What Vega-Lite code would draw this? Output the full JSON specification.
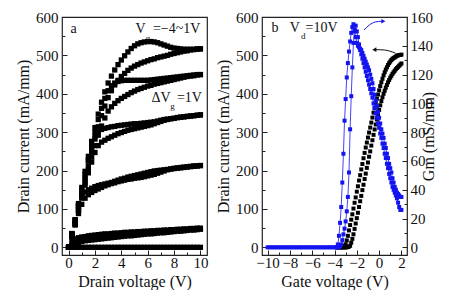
{
"$schema": "https://vega.github.io/schema/vega-lite/v6.json",
"padding": {"left": 14, "top": 9, "right": 0, "bottom": 0},
"config": {
 "font": "Liberation Serif",
 "view": {"stroke": "#222", "strokeWidth": 1.2},
 "axis": {"grid": false, "domain": false, "tickSize": -4, "tickColor": "#222", "labelFont": "Liberation Serif", "labelFontSize": 15, "labelColor": "#111", "titleFont": "Liberation Serif", "titleFontSize": 16, "titleFontWeight": "normal", "titleColor": "#111", "labelFlush": false, "labelPadding": 9, "labelOverlap": false},
 "axisX": {"labelPadding": 5, "titlePadding": 1},
 "concat": {"spacing": 5}
},
"datasets": {
 "pa": [
{"c":"1F","x":0,"y":0},{"c":"1F","x":0.25,"y":36},{"c":"1F","x":0.5,"y":72},{"c":"1F","x":0.75,"y":114},{"c":"1F","x":1,"y":156},{"c":"1F","x":1.25,"y":198},{"c":"1F","x":1.5,"y":237},{"c":"1F","x":1.75,"y":276},{"c":"1F","x":2,"y":312},{"c":"1F","x":2.25,"y":347},{"c":"1F","x":2.5,"y":378},{"c":"1F","x":2.75,"y":405},{"c":"1F","x":3,"y":428},{"c":"1F","x":3.25,"y":446},{"c":"1F","x":3.5,"y":462},{"c":"1F","x":3.75,"y":476},{"c":"1F","x":4,"y":488},{"c":"1F","x":4.25,"y":499},{"c":"1F","x":4.5,"y":509},{"c":"1F","x":4.75,"y":518},{"c":"1F","x":5,"y":525},{"c":"1F","x":5.25,"y":530},{"c":"1F","x":5.5,"y":533},{"c":"1F","x":5.75,"y":535},{"c":"1F","x":6,"y":536},{"c":"1F","x":6.25,"y":536},{"c":"1F","x":6.5,"y":535},{"c":"1F","x":6.75,"y":533},{"c":"1F","x":7,"y":530},{"c":"1F","x":7.25,"y":527},{"c":"1F","x":7.5,"y":524},{"c":"1F","x":7.75,"y":521},{"c":"1F","x":8,"y":519},{"c":"1F","x":8.25,"y":518},{"c":"1F","x":8.5,"y":517},{"c":"1F","x":8.75,"y":516},{"c":"1F","x":9,"y":516},{"c":"1F","x":9.25,"y":516},{"c":"1F","x":9.5,"y":516},{"c":"1F","x":9.75,"y":517},{"c":"1F","x":10,"y":517},
{"c":"1R","x":0,"y":0},{"c":"1R","x":0.25,"y":30},{"c":"1R","x":0.5,"y":62},{"c":"1R","x":0.75,"y":100},{"c":"1R","x":1,"y":138},{"c":"1R","x":1.25,"y":176},{"c":"1R","x":1.5,"y":212},{"c":"1R","x":1.75,"y":248},{"c":"1R","x":2,"y":282},{"c":"1R","x":2.25,"y":314},{"c":"1R","x":2.5,"y":343},{"c":"1R","x":2.75,"y":368},{"c":"1R","x":3,"y":390},{"c":"1R","x":3.25,"y":408},{"c":"1R","x":3.5,"y":423},{"c":"1R","x":3.75,"y":435},{"c":"1R","x":4,"y":445},{"c":"1R","x":4.25,"y":453},{"c":"1R","x":4.5,"y":461},{"c":"1R","x":4.75,"y":467},{"c":"1R","x":5,"y":472},{"c":"1R","x":5.25,"y":476},{"c":"1R","x":5.5,"y":480},{"c":"1R","x":5.75,"y":483},{"c":"1R","x":6,"y":486},{"c":"1R","x":6.25,"y":489},{"c":"1R","x":6.5,"y":491},{"c":"1R","x":6.75,"y":494},{"c":"1R","x":7,"y":496},{"c":"1R","x":7.25,"y":498},{"c":"1R","x":7.5,"y":500},{"c":"1R","x":7.75,"y":503},{"c":"1R","x":8,"y":505},{"c":"1R","x":8.25,"y":507},{"c":"1R","x":8.5,"y":509},{"c":"1R","x":8.75,"y":511},{"c":"1R","x":9,"y":512},{"c":"1R","x":9.25,"y":514},{"c":"1R","x":9.5,"y":515},{"c":"1R","x":9.75,"y":516},{"c":"1R","x":10,"y":517},
{"c":"0F","x":0,"y":0},{"c":"0F","x":0.25,"y":35},{"c":"0F","x":0.5,"y":70},{"c":"0F","x":0.75,"y":110},{"c":"0F","x":1,"y":150},{"c":"0F","x":1.25,"y":190},{"c":"0F","x":1.5,"y":228},{"c":"0F","x":1.75,"y":265},{"c":"0F","x":2,"y":300},{"c":"0F","x":2.25,"y":333},{"c":"0F","x":2.5,"y":362},{"c":"0F","x":2.75,"y":388},{"c":"0F","x":3,"y":408},{"c":"0F","x":3.25,"y":421},{"c":"0F","x":3.5,"y":428},{"c":"0F","x":3.75,"y":432},{"c":"0F","x":4,"y":434},{"c":"0F","x":4.25,"y":435},{"c":"0F","x":4.5,"y":435},{"c":"0F","x":4.75,"y":435},{"c":"0F","x":5,"y":435},{"c":"0F","x":5.25,"y":435},{"c":"0F","x":5.5,"y":435},{"c":"0F","x":5.75,"y":435},{"c":"0F","x":6,"y":435},{"c":"0F","x":6.25,"y":436},{"c":"0F","x":6.5,"y":437},{"c":"0F","x":6.75,"y":438},{"c":"0F","x":7,"y":439},{"c":"0F","x":7.25,"y":440},{"c":"0F","x":7.5,"y":441},{"c":"0F","x":7.75,"y":442},{"c":"0F","x":8,"y":443},{"c":"0F","x":8.25,"y":444},{"c":"0F","x":8.5,"y":445},{"c":"0F","x":8.75,"y":446},{"c":"0F","x":9,"y":447},{"c":"0F","x":9.25,"y":448},{"c":"0F","x":9.5,"y":449},{"c":"0F","x":9.75,"y":450},{"c":"0F","x":10,"y":450},
{"c":"0R","x":0,"y":0},{"c":"0R","x":0.25,"y":30},{"c":"0R","x":0.5,"y":60},{"c":"0R","x":0.75,"y":96},{"c":"0R","x":1,"y":132},{"c":"0R","x":1.25,"y":168},{"c":"0R","x":1.5,"y":202},{"c":"0R","x":1.75,"y":235},{"c":"0R","x":2,"y":265},{"c":"0R","x":2.25,"y":292},{"c":"0R","x":2.5,"y":316},{"c":"0R","x":2.75,"y":337},{"c":"0R","x":3,"y":355},{"c":"0R","x":3.25,"y":366},{"c":"0R","x":3.5,"y":375},{"c":"0R","x":3.75,"y":382},{"c":"0R","x":4,"y":388},{"c":"0R","x":4.25,"y":393},{"c":"0R","x":4.5,"y":398},{"c":"0R","x":4.75,"y":403},{"c":"0R","x":5,"y":407},{"c":"0R","x":5.25,"y":411},{"c":"0R","x":5.5,"y":414},{"c":"0R","x":5.75,"y":417},{"c":"0R","x":6,"y":420},{"c":"0R","x":6.25,"y":422},{"c":"0R","x":6.5,"y":425},{"c":"0R","x":6.75,"y":427},{"c":"0R","x":7,"y":429},{"c":"0R","x":7.25,"y":431},{"c":"0R","x":7.5,"y":433},{"c":"0R","x":7.75,"y":435},{"c":"0R","x":8,"y":437},{"c":"0R","x":8.25,"y":439},{"c":"0R","x":8.5,"y":441},{"c":"0R","x":8.75,"y":443},{"c":"0R","x":9,"y":445},{"c":"0R","x":9.25,"y":446},{"c":"0R","x":9.5,"y":447},{"c":"0R","x":9.75,"y":449},{"c":"0R","x":10,"y":450},
{"c":"m1F","x":0,"y":0},{"c":"m1F","x":0.25,"y":34},{"c":"m1F","x":0.5,"y":68},{"c":"m1F","x":0.75,"y":106},{"c":"m1F","x":1,"y":144},{"c":"m1F","x":1.25,"y":182},{"c":"m1F","x":1.5,"y":225},{"c":"m1F","x":1.75,"y":260},{"c":"m1F","x":2,"y":288},{"c":"m1F","x":2.25,"y":301},{"c":"m1F","x":2.5,"y":307},{"c":"m1F","x":2.75,"y":310},{"c":"m1F","x":3,"y":312},{"c":"m1F","x":3.25,"y":314},{"c":"m1F","x":3.5,"y":315},{"c":"m1F","x":3.75,"y":317},{"c":"m1F","x":4,"y":318},{"c":"m1F","x":4.25,"y":319},{"c":"m1F","x":4.5,"y":320},{"c":"m1F","x":4.75,"y":321},{"c":"m1F","x":5,"y":322},{"c":"m1F","x":5.25,"y":322},{"c":"m1F","x":5.5,"y":323},{"c":"m1F","x":5.75,"y":324},{"c":"m1F","x":6,"y":325},{"c":"m1F","x":6.25,"y":326},{"c":"m1F","x":6.5,"y":327},{"c":"m1F","x":6.75,"y":329},{"c":"m1F","x":7,"y":331},{"c":"m1F","x":7.25,"y":333},{"c":"m1F","x":7.5,"y":334},{"c":"m1F","x":7.75,"y":335},{"c":"m1F","x":8,"y":336},{"c":"m1F","x":8.25,"y":338},{"c":"m1F","x":8.5,"y":339},{"c":"m1F","x":8.75,"y":340},{"c":"m1F","x":9,"y":341},{"c":"m1F","x":9.25,"y":342},{"c":"m1F","x":9.5,"y":343},{"c":"m1F","x":9.75,"y":344},{"c":"m1F","x":10,"y":345},
{"c":"m1R","x":0,"y":0},{"c":"m1R","x":0.25,"y":30},{"c":"m1R","x":0.5,"y":60},{"c":"m1R","x":0.75,"y":94},{"c":"m1R","x":1,"y":128},{"c":"m1R","x":1.25,"y":162},{"c":"m1R","x":1.5,"y":194},{"c":"m1R","x":1.75,"y":222},{"c":"m1R","x":2,"y":247},{"c":"m1R","x":2.25,"y":265},{"c":"m1R","x":2.5,"y":274},{"c":"m1R","x":2.75,"y":279},{"c":"m1R","x":3,"y":284},{"c":"m1R","x":3.25,"y":288},{"c":"m1R","x":3.5,"y":292},{"c":"m1R","x":3.75,"y":296},{"c":"m1R","x":4,"y":299},{"c":"m1R","x":4.25,"y":302},{"c":"m1R","x":4.5,"y":305},{"c":"m1R","x":4.75,"y":307},{"c":"m1R","x":5,"y":309},{"c":"m1R","x":5.25,"y":311},{"c":"m1R","x":5.5,"y":313},{"c":"m1R","x":5.75,"y":315},{"c":"m1R","x":6,"y":317},{"c":"m1R","x":6.25,"y":319},{"c":"m1R","x":6.5,"y":322},{"c":"m1R","x":6.75,"y":325},{"c":"m1R","x":7,"y":328},{"c":"m1R","x":7.25,"y":331},{"c":"m1R","x":7.5,"y":333},{"c":"m1R","x":7.75,"y":335},{"c":"m1R","x":8,"y":336},{"c":"m1R","x":8.25,"y":338},{"c":"m1R","x":8.5,"y":339},{"c":"m1R","x":8.75,"y":340},{"c":"m1R","x":9,"y":341},{"c":"m1R","x":9.25,"y":342},{"c":"m1R","x":9.5,"y":343},{"c":"m1R","x":9.75,"y":344},{"c":"m1R","x":10,"y":345},
{"c":"m2F","x":0,"y":0},{"c":"m2F","x":0.25,"y":35},{"c":"m2F","x":0.5,"y":72},{"c":"m2F","x":0.75,"y":108},{"c":"m2F","x":1,"y":133},{"c":"m2F","x":1.25,"y":144},{"c":"m2F","x":1.5,"y":150},{"c":"m2F","x":1.75,"y":154},{"c":"m2F","x":2,"y":158},{"c":"m2F","x":2.25,"y":161},{"c":"m2F","x":2.5,"y":163},{"c":"m2F","x":2.75,"y":165},{"c":"m2F","x":3,"y":167},{"c":"m2F","x":3.25,"y":169},{"c":"m2F","x":3.5,"y":172},{"c":"m2F","x":3.75,"y":175},{"c":"m2F","x":4,"y":178},{"c":"m2F","x":4.25,"y":180},{"c":"m2F","x":4.5,"y":183},{"c":"m2F","x":4.75,"y":185},{"c":"m2F","x":5,"y":187},{"c":"m2F","x":5.25,"y":189},{"c":"m2F","x":5.5,"y":191},{"c":"m2F","x":5.75,"y":193},{"c":"m2F","x":6,"y":195},{"c":"m2F","x":6.25,"y":197},{"c":"m2F","x":6.5,"y":199},{"c":"m2F","x":6.75,"y":200},{"c":"m2F","x":7,"y":201},{"c":"m2F","x":7.25,"y":202},{"c":"m2F","x":7.5,"y":203},{"c":"m2F","x":7.75,"y":204},{"c":"m2F","x":8,"y":205},{"c":"m2F","x":8.25,"y":206},{"c":"m2F","x":8.5,"y":207},{"c":"m2F","x":8.75,"y":208},{"c":"m2F","x":9,"y":209},{"c":"m2F","x":9.25,"y":210},{"c":"m2F","x":9.5,"y":211},{"c":"m2F","x":9.75,"y":212},{"c":"m2F","x":10,"y":213},
{"c":"m2R","x":0,"y":0},{"c":"m2R","x":0.25,"y":28},{"c":"m2R","x":0.5,"y":58},{"c":"m2R","x":0.75,"y":88},{"c":"m2R","x":1,"y":112},{"c":"m2R","x":1.25,"y":128},{"c":"m2R","x":1.5,"y":137},{"c":"m2R","x":1.75,"y":143},{"c":"m2R","x":2,"y":148},{"c":"m2R","x":2.25,"y":152},{"c":"m2R","x":2.5,"y":156},{"c":"m2R","x":2.75,"y":160},{"c":"m2R","x":3,"y":163},{"c":"m2R","x":3.25,"y":166},{"c":"m2R","x":3.5,"y":168},{"c":"m2R","x":3.75,"y":171},{"c":"m2R","x":4,"y":173},{"c":"m2R","x":4.25,"y":175},{"c":"m2R","x":4.5,"y":177},{"c":"m2R","x":4.75,"y":178},{"c":"m2R","x":5,"y":180},{"c":"m2R","x":5.25,"y":181},{"c":"m2R","x":5.5,"y":182},{"c":"m2R","x":5.75,"y":184},{"c":"m2R","x":6,"y":186},{"c":"m2R","x":6.25,"y":188},{"c":"m2R","x":6.5,"y":190},{"c":"m2R","x":6.75,"y":193},{"c":"m2R","x":7,"y":196},{"c":"m2R","x":7.25,"y":199},{"c":"m2R","x":7.5,"y":202},{"c":"m2R","x":7.75,"y":204},{"c":"m2R","x":8,"y":206},{"c":"m2R","x":8.25,"y":207},{"c":"m2R","x":8.5,"y":208},{"c":"m2R","x":8.75,"y":209},{"c":"m2R","x":9,"y":210},{"c":"m2R","x":9.25,"y":211},{"c":"m2R","x":9.5,"y":212},{"c":"m2R","x":9.75,"y":212},{"c":"m2R","x":10,"y":213},
{"c":"m3F","x":0,"y":0},{"c":"m3F","x":0.25,"y":16},{"c":"m3F","x":0.5,"y":22},{"c":"m3F","x":0.75,"y":25},{"c":"m3F","x":1,"y":27},{"c":"m3F","x":1.25,"y":28},{"c":"m3F","x":1.5,"y":30},{"c":"m3F","x":1.75,"y":31},{"c":"m3F","x":2,"y":32},{"c":"m3F","x":2.25,"y":33},{"c":"m3F","x":2.5,"y":34},{"c":"m3F","x":2.75,"y":35},{"c":"m3F","x":3,"y":35},{"c":"m3F","x":3.25,"y":36},{"c":"m3F","x":3.5,"y":37},{"c":"m3F","x":3.75,"y":37},{"c":"m3F","x":4,"y":38},{"c":"m3F","x":4.25,"y":39},{"c":"m3F","x":4.5,"y":39},{"c":"m3F","x":4.75,"y":40},{"c":"m3F","x":5,"y":40},{"c":"m3F","x":5.25,"y":41},{"c":"m3F","x":5.5,"y":41},{"c":"m3F","x":5.75,"y":42},{"c":"m3F","x":6,"y":42},{"c":"m3F","x":6.25,"y":43},{"c":"m3F","x":6.5,"y":43},{"c":"m3F","x":6.75,"y":44},{"c":"m3F","x":7,"y":44},{"c":"m3F","x":7.25,"y":45},{"c":"m3F","x":7.5,"y":45},{"c":"m3F","x":7.75,"y":46},{"c":"m3F","x":8,"y":46},{"c":"m3F","x":8.25,"y":47},{"c":"m3F","x":8.5,"y":47},{"c":"m3F","x":8.75,"y":48},{"c":"m3F","x":9,"y":48},{"c":"m3F","x":9.25,"y":49},{"c":"m3F","x":9.5,"y":49},{"c":"m3F","x":9.75,"y":50},{"c":"m3F","x":10,"y":50},
{"c":"m3R","x":0,"y":0},{"c":"m3R","x":0.25,"y":6},{"c":"m3R","x":0.5,"y":10},{"c":"m3R","x":0.75,"y":13},{"c":"m3R","x":1,"y":15},{"c":"m3R","x":1.25,"y":17},{"c":"m3R","x":1.5,"y":18},{"c":"m3R","x":1.75,"y":19},{"c":"m3R","x":2,"y":20},{"c":"m3R","x":2.25,"y":21},{"c":"m3R","x":2.5,"y":22},{"c":"m3R","x":2.75,"y":23},{"c":"m3R","x":3,"y":24},{"c":"m3R","x":3.25,"y":25},{"c":"m3R","x":3.5,"y":26},{"c":"m3R","x":3.75,"y":27},{"c":"m3R","x":4,"y":28},{"c":"m3R","x":4.25,"y":29},{"c":"m3R","x":4.5,"y":30},{"c":"m3R","x":4.75,"y":30},{"c":"m3R","x":5,"y":31},{"c":"m3R","x":5.25,"y":32},{"c":"m3R","x":5.5,"y":33},{"c":"m3R","x":5.75,"y":34},{"c":"m3R","x":6,"y":35},{"c":"m3R","x":6.25,"y":35},{"c":"m3R","x":6.5,"y":36},{"c":"m3R","x":6.75,"y":37},{"c":"m3R","x":7,"y":38},{"c":"m3R","x":7.25,"y":38},{"c":"m3R","x":7.5,"y":39},{"c":"m3R","x":7.75,"y":40},{"c":"m3R","x":8,"y":41},{"c":"m3R","x":8.25,"y":42},{"c":"m3R","x":8.5,"y":42},{"c":"m3R","x":8.75,"y":43},{"c":"m3R","x":9,"y":44},{"c":"m3R","x":9.25,"y":45},{"c":"m3R","x":9.5,"y":45},{"c":"m3R","x":9.75,"y":46},{"c":"m3R","x":10,"y":47},
{"c":"m4","x":0,"y":0},{"c":"m4","x":0.25,"y":0},{"c":"m4","x":0.5,"y":0},{"c":"m4","x":0.75,"y":0},{"c":"m4","x":1,"y":0},{"c":"m4","x":1.25,"y":0},{"c":"m4","x":1.5,"y":0},{"c":"m4","x":1.75,"y":0},{"c":"m4","x":2,"y":0},{"c":"m4","x":2.25,"y":0},{"c":"m4","x":2.5,"y":0},{"c":"m4","x":2.75,"y":0},{"c":"m4","x":3,"y":0},{"c":"m4","x":3.25,"y":0},{"c":"m4","x":3.5,"y":0},{"c":"m4","x":3.75,"y":0},{"c":"m4","x":4,"y":0},{"c":"m4","x":4.25,"y":0},{"c":"m4","x":4.5,"y":0},{"c":"m4","x":4.75,"y":0},{"c":"m4","x":5,"y":0},{"c":"m4","x":5.25,"y":0},{"c":"m4","x":5.5,"y":0},{"c":"m4","x":5.75,"y":0},{"c":"m4","x":6,"y":0},{"c":"m4","x":6.25,"y":0},{"c":"m4","x":6.5,"y":0},{"c":"m4","x":6.75,"y":0},{"c":"m4","x":7,"y":0},{"c":"m4","x":7.25,"y":0},{"c":"m4","x":7.5,"y":0},{"c":"m4","x":7.75,"y":0},{"c":"m4","x":8,"y":0},{"c":"m4","x":8.25,"y":0},{"c":"m4","x":8.5,"y":0},{"c":"m4","x":8.75,"y":0},{"c":"m4","x":9,"y":0},{"c":"m4","x":9.25,"y":0},{"c":"m4","x":9.5,"y":0},{"c":"m4","x":9.75,"y":0},{"c":"m4","x":10,"y":0}
 ],
 "ta": [
  {"t":"a","x":0.15,"y":568},
  {"t":"V","x":5.08,"y":568},
  {"t":"=−4~1V","x":6.4,"y":568},
  {"t":"ΔV","x":6.29,"y":388},
  {"t":"=1V","x":8.22,"y":388}
 ],
 "sa": [
  {"t":"g","x":5.85,"y":546},
  {"t":"g","x":7.72,"y":368}
 ],
 "bi": [
{"c":"L","v":-3.8,"i":0},{"c":"L","v":-3.7,"i":0},{"c":"L","v":-3.6,"i":0},{"c":"L","v":-3.5,"i":0},{"c":"L","v":-3.4,"i":0},{"c":"L","v":-3.3,"i":1},{"c":"L","v":-3.2,"i":2},{"c":"L","v":-3.1,"i":4},{"c":"L","v":-3.0,"i":8},{"c":"L","v":-2.9,"i":18},{"c":"L","v":-2.8,"i":30},{"c":"L","v":-2.7,"i":44},{"c":"L","v":-2.6,"i":58},{"c":"L","v":-2.5,"i":72},{"c":"L","v":-2.4,"i":86},{"c":"L","v":-2.3,"i":101},{"c":"L","v":-2.2,"i":116},{"c":"L","v":-2.1,"i":130},{"c":"L","v":-2.0,"i":145},{"c":"L","v":-1.9,"i":159},{"c":"L","v":-1.8,"i":174},{"c":"L","v":-1.7,"i":188},{"c":"L","v":-1.6,"i":203},{"c":"L","v":-1.5,"i":217},{"c":"L","v":-1.4,"i":232},{"c":"L","v":-1.3,"i":246},{"c":"L","v":-1.2,"i":260},{"c":"L","v":-1.1,"i":273},{"c":"L","v":-1.0,"i":286},{"c":"L","v":-0.9,"i":299},{"c":"L","v":-0.8,"i":312},{"c":"L","v":-0.7,"i":325},{"c":"L","v":-0.6,"i":338},{"c":"L","v":-0.5,"i":351},{"c":"L","v":-0.4,"i":363},{"c":"L","v":-0.3,"i":375},{"c":"L","v":-0.2,"i":387},{"c":"L","v":-0.1,"i":398},{"c":"L","v":0,"i":409},{"c":"L","v":0.1,"i":420},{"c":"L","v":0.2,"i":430},{"c":"L","v":0.3,"i":439},{"c":"L","v":0.4,"i":448},{"c":"L","v":0.5,"i":456},{"c":"L","v":0.6,"i":463},{"c":"L","v":0.7,"i":469},{"c":"L","v":0.8,"i":475},{"c":"L","v":0.9,"i":480},{"c":"L","v":1.0,"i":484},{"c":"L","v":1.1,"i":488},{"c":"L","v":1.2,"i":491},{"c":"L","v":1.3,"i":493},{"c":"L","v":1.4,"i":495},{"c":"L","v":1.5,"i":497},{"c":"L","v":1.6,"i":499},{"c":"L","v":1.7,"i":500},{"c":"L","v":1.8,"i":501},{"c":"L","v":1.9,"i":501},{"c":"L","v":2.0,"i":502},
{"c":"R","v":-3.4,"i":0},{"c":"R","v":-3.3,"i":0},{"c":"R","v":-3.2,"i":0},{"c":"R","v":-3.1,"i":0},{"c":"R","v":-3.0,"i":0},{"c":"R","v":-2.9,"i":0},{"c":"R","v":-2.8,"i":1},{"c":"R","v":-2.7,"i":2},{"c":"R","v":-2.6,"i":4},{"c":"R","v":-2.5,"i":12},{"c":"R","v":-2.4,"i":22},{"c":"R","v":-2.3,"i":34},{"c":"R","v":-2.2,"i":48},{"c":"R","v":-2.1,"i":62},{"c":"R","v":-2.0,"i":76},{"c":"R","v":-1.9,"i":90},{"c":"R","v":-1.8,"i":105},{"c":"R","v":-1.7,"i":120},{"c":"R","v":-1.6,"i":134},{"c":"R","v":-1.5,"i":149},{"c":"R","v":-1.4,"i":163},{"c":"R","v":-1.3,"i":178},{"c":"R","v":-1.2,"i":192},{"c":"R","v":-1.1,"i":207},{"c":"R","v":-1.0,"i":221},{"c":"R","v":-0.9,"i":236},{"c":"R","v":-0.8,"i":250},{"c":"R","v":-0.7,"i":265},{"c":"R","v":-0.6,"i":279},{"c":"R","v":-0.5,"i":293},{"c":"R","v":-0.4,"i":307},{"c":"R","v":-0.3,"i":320},{"c":"R","v":-0.2,"i":333},{"c":"R","v":-0.1,"i":346},{"c":"R","v":0,"i":358},{"c":"R","v":0.1,"i":370},{"c":"R","v":0.2,"i":381},{"c":"R","v":0.3,"i":391},{"c":"R","v":0.4,"i":400},{"c":"R","v":0.5,"i":408},{"c":"R","v":0.6,"i":416},{"c":"R","v":0.7,"i":423},{"c":"R","v":0.8,"i":430},{"c":"R","v":0.9,"i":436},{"c":"R","v":1.0,"i":442},{"c":"R","v":1.1,"i":447},{"c":"R","v":1.2,"i":452},{"c":"R","v":1.3,"i":456},{"c":"R","v":1.4,"i":460},{"c":"R","v":1.5,"i":464},{"c":"R","v":1.6,"i":467},{"c":"R","v":1.7,"i":470},{"c":"R","v":1.8,"i":473},{"c":"R","v":1.9,"i":476},{"c":"R","v":2.0,"i":479}
 ],
 "gm": [
{"c":"A","v":-10,"g":0},{"c":"A","v":-9.8,"g":0},{"c":"A","v":-9.6,"g":0},{"c":"A","v":-9.4,"g":0},{"c":"A","v":-9.2,"g":0},{"c":"A","v":-9,"g":0},{"c":"A","v":-8.8,"g":0},{"c":"A","v":-8.6,"g":0},{"c":"A","v":-8.4,"g":0},{"c":"A","v":-8.2,"g":0},{"c":"A","v":-8,"g":0},{"c":"A","v":-7.8,"g":0},{"c":"A","v":-7.6,"g":0},{"c":"A","v":-7.4,"g":0},{"c":"A","v":-7.2,"g":0},{"c":"A","v":-7,"g":0},{"c":"A","v":-6.8,"g":0},{"c":"A","v":-6.6,"g":0},{"c":"A","v":-6.4,"g":0},{"c":"A","v":-6.2,"g":0},{"c":"A","v":-6,"g":0},{"c":"A","v":-5.8,"g":0},{"c":"A","v":-5.6,"g":0},{"c":"A","v":-5.4,"g":0},{"c":"A","v":-5.2,"g":0},{"c":"A","v":-5,"g":0},{"c":"A","v":-4.8,"g":0},{"c":"A","v":-4.6,"g":0},{"c":"A","v":-4.4,"g":0},{"c":"A","v":-4.2,"g":0},{"c":"A","v":-4,"g":0},{"c":"A","v":-3.8,"g":0},
{"c":"A","v":-3.7,"g":2},{"c":"A","v":-3.6,"g":8},{"c":"A","v":-3.5,"g":17},{"c":"A","v":-3.4,"g":28},{"c":"A","v":-3.3,"g":45},{"c":"A","v":-3.2,"g":65},{"c":"A","v":-3.1,"g":88},{"c":"A","v":-3.0,"g":103},{"c":"A","v":-2.9,"g":118},{"c":"A","v":-2.8,"g":128},{"c":"A","v":-2.7,"g":136},{"c":"A","v":-2.6,"g":143},{"c":"A","v":-2.5,"g":149},{"c":"A","v":-2.4,"g":153},{"c":"A","v":-2.3,"g":155},{"c":"A","v":-2.2,"g":150},{"c":"A","v":-2.1,"g":146},{"c":"A","v":-2.0,"g":142},{"c":"A","v":-1.9,"g":140},{"c":"A","v":-1.8,"g":139},{"c":"A","v":-1.7,"g":138},{"c":"A","v":-1.6,"g":137},{"c":"A","v":-1.5,"g":135},{"c":"A","v":-1.4,"g":133},{"c":"A","v":-1.3,"g":131},{"c":"A","v":-1.2,"g":129},{"c":"A","v":-1.1,"g":127},{"c":"A","v":-1.0,"g":125},{"c":"A","v":-0.9,"g":123},{"c":"A","v":-0.8,"g":120},{"c":"A","v":-0.7,"g":117},{"c":"A","v":-0.6,"g":114},{"c":"A","v":-0.5,"g":110},{"c":"A","v":-0.4,"g":106},{"c":"A","v":-0.3,"g":102},{"c":"A","v":-0.2,"g":98},{"c":"A","v":-0.1,"g":94},{"c":"A","v":0,"g":90},{"c":"A","v":0.1,"g":86},{"c":"A","v":0.2,"g":82},{"c":"A","v":0.3,"g":79},{"c":"A","v":0.4,"g":76},{"c":"A","v":0.5,"g":72},{"c":"A","v":0.6,"g":69},{"c":"A","v":0.7,"g":65},{"c":"A","v":0.8,"g":62},{"c":"A","v":0.9,"g":58},{"c":"A","v":1.0,"g":55},{"c":"A","v":1.1,"g":52},{"c":"A","v":1.2,"g":48},{"c":"A","v":1.3,"g":45},{"c":"A","v":1.4,"g":42},{"c":"A","v":1.5,"g":40},{"c":"A","v":1.6,"g":38},{"c":"A","v":1.7,"g":37},{"c":"A","v":1.8,"g":36},{"c":"A","v":1.9,"g":35},{"c":"A","v":2.0,"g":35},
{"c":"B","v":-3.8,"g":0},{"c":"B","v":-3.7,"g":0},{"c":"B","v":-3.6,"g":0},{"c":"B","v":-3.5,"g":1},{"c":"B","v":-3.4,"g":2},{"c":"B","v":-3.3,"g":5},{"c":"B","v":-3.2,"g":9},{"c":"B","v":-3.1,"g":13},{"c":"B","v":-3.0,"g":18},{"c":"B","v":-2.9,"g":25},{"c":"B","v":-2.8,"g":35},{"c":"B","v":-2.7,"g":52},{"c":"B","v":-2.6,"g":82},{"c":"B","v":-2.5,"g":105},{"c":"B","v":-2.4,"g":125},{"c":"B","v":-2.3,"g":142},{"c":"B","v":-2.2,"g":151},{"c":"B","v":-2.1,"g":154},{"c":"B","v":-2.0,"g":150},{"c":"B","v":-1.9,"g":146},{"c":"B","v":-1.8,"g":141},{"c":"B","v":-1.7,"g":137},{"c":"B","v":-1.6,"g":134},{"c":"B","v":-1.5,"g":131},{"c":"B","v":-1.4,"g":128},{"c":"B","v":-1.3,"g":125},{"c":"B","v":-1.2,"g":122},{"c":"B","v":-1.1,"g":119},{"c":"B","v":-1.0,"g":116},{"c":"B","v":-0.9,"g":113},{"c":"B","v":-0.8,"g":110},{"c":"B","v":-0.7,"g":107},{"c":"B","v":-0.6,"g":104},{"c":"B","v":-0.5,"g":100},{"c":"B","v":-0.4,"g":97},{"c":"B","v":-0.3,"g":93},{"c":"B","v":-0.2,"g":90},{"c":"B","v":-0.1,"g":86},{"c":"B","v":0,"g":83},{"c":"B","v":0.1,"g":79},{"c":"B","v":0.2,"g":76},{"c":"B","v":0.3,"g":72},{"c":"B","v":0.4,"g":69},{"c":"B","v":0.5,"g":65},{"c":"B","v":0.6,"g":62},{"c":"B","v":0.7,"g":58},{"c":"B","v":0.8,"g":55},{"c":"B","v":0.9,"g":51},{"c":"B","v":1.0,"g":48},{"c":"B","v":1.1,"g":45},{"c":"B","v":1.2,"g":42},{"c":"B","v":1.3,"g":40},{"c":"B","v":1.4,"g":38},{"c":"B","v":1.5,"g":36},{"c":"B","v":1.6,"g":34},{"c":"B","v":1.7,"g":31},{"c":"B","v":1.8,"g":28},{"c":"B","v":1.9,"g":26},{"c":"B","v":2.0,"g":26}
 ],
 "tb": [
  {"t":"b","v":-9.64,"i":571},
  {"t":"V","v":-8.01,"i":571},
  {"t":"=10V","v":-6.6,"i":571}
 ],
 "sb": [
  {"t":"d","v":-7.0,"i":551}
 ],
 "arB": [
  {"v":-1.36,"i":566},{"v":-0.88,"i":579},{"v":-0.34,"i":587},{"v":0.25,"i":589}
 ],
 "hB": [{"v":0.38,"i":589}],
 "arK": [
  {"v":-0.34,"i":515},{"v":0.47,"i":514},{"v":1.46,"i":506}
 ],
 "hK": [{"v":-0.43,"i":515}]
},
"hconcat": [
 {
  "width": 145, "height": 238,
  "encoding": {
   "x": {"field": "x", "type": "quantitative", "scale": {"domain": [-0.5, 10.5], "nice": false, "zero": false},
     "axis": {"title": "Drain voltage (V)", "labelFont": "Liberation Serif", "labelFontSize": 15, "labelOverlap": false, "labelPadding": 5, "titlePadding": 1, "values": [0,1,2,3,4,5,6,7,8,9,10], "labelExpr": "datum.value % 2 == 0 ? datum.label : ''", "tickSize": {"condition": {"test": "datum.value % 2 == 0", "value": -5}, "value": -3}}},
   "y": {"field": "y", "type": "quantitative", "scale": {"domain": [-20, 600], "nice": false, "zero": false},
     "axis": {"title": "Drain current (mA/mm)", "labelFont": "Liberation Serif", "labelFontSize": 15, "labelOverlap": false, "values": [0,50,100,150,200,250,300,350,400,450,500,550,600], "labelExpr": "datum.value % 100 == 0 ? datum.label : ''", "tickSize": {"condition": {"test": "datum.value % 100 == 0", "value": -5}, "value": -3}}}
  },
  "layer": [
   {"data": {"name": "pa"},
    "mark": {"type": "point", "shape": "square", "filled": true, "color": "#000", "size": 28, "opacity": 1}},
   {"data": {"name": "ta"},
    "mark": {"type": "text", "align": "left", "baseline": "middle", "fontSize": 14, "font": "Liberation Serif", "color": "#111"},
    "encoding": {"text": {"field": "t"}}},
   {"data": {"name": "sa"},
    "mark": {"type": "text", "align": "left", "baseline": "middle", "fontSize": 9, "font": "Liberation Serif", "color": "#111"},
    "encoding": {"text": {"field": "t"}}}
  ]
 },
 {
  "width": 145, "height": 238,
  "encoding": {
   "x": {"field": "v", "type": "quantitative", "scale": {"domain": [-10.5, 2.5], "nice": false, "zero": false},
     "axis": {"title": "Gate voltage (V)", "labelFont": "Liberation Serif", "labelFontSize": 15, "labelOverlap": false, "labelPadding": 5, "titlePadding": 1, "values": [-10,-9,-8,-7,-6,-5,-4,-3,-2,-1,0,1,2], "labelExpr": "datum.value % 2 == 0 ? datum.label : ''", "tickSize": {"condition": {"test": "datum.value % 2 == 0", "value": -5}, "value": -3}}}
  },
  "layer": [
   {"encoding": {
     "y": {"field": "i", "type": "quantitative", "scale": {"domain": [-20, 600], "nice": false, "zero": false},
       "axis": {"title": "Drain current (mA/mm)", "labelFont": "Liberation Serif", "labelFontSize": 15, "labelOverlap": false, "values": [0,50,100,150,200,250,300,350,400,450,500,550,600], "labelExpr": "datum.value % 100 == 0 ? datum.label : ''", "tickSize": {"condition": {"test": "datum.value % 100 == 0", "value": -5}, "value": -3}}}
    },
    "layer": [
     {"data": {"name": "bi"},
      "mark": {"type": "point", "shape": "square", "filled": true, "color": "#000", "size": 16, "opacity": 1}},
     {"data": {"name": "tb"},
      "mark": {"type": "text", "align": "left", "baseline": "middle", "fontSize": 14, "font": "Liberation Serif", "color": "#111"},
      "encoding": {"text": {"field": "t"}}},
     {"data": {"name": "sb"},
      "mark": {"type": "text", "align": "left", "baseline": "middle", "fontSize": 9, "font": "Liberation Serif", "color": "#111"},
      "encoding": {"text": {"field": "t"}}},
     {"data": {"name": "arK"},
      "mark": {"type": "line", "color": "#111", "strokeWidth": 1, "interpolate": "monotone"}},
     {"data": {"name": "hK"},
      "mark": {"type": "point", "shape": "triangle-left", "filled": true, "color": "#111", "size": 22, "opacity": 1}},
     {"data": {"name": "arB"},
      "mark": {"type": "line", "color": "#1414f0", "strokeWidth": 1, "interpolate": "monotone"}},
     {"data": {"name": "hB"},
      "mark": {"type": "point", "shape": "triangle-right", "filled": true, "color": "#1414f0", "size": 22, "opacity": 1}}
   ]},
   {"data": {"name": "gm"},
    "encoding": {
     "y": {"field": "g", "type": "quantitative", "scale": {"domain": [-5.33, 160], "nice": false, "zero": false},
       "axis": {"orient": "right", "title": "Gm (mS/mm)", "titleAngle": 270, "labelFont": "Liberation Serif", "labelFontSize": 15, "labelOverlap": false, "labelPadding": 8, "values": [0,10,20,30,40,50,60,70,80,90,100,110,120,130,140,150,160], "labelExpr": "datum.value % 20 == 0 ? datum.label : ''", "tickSize": {"condition": {"test": "datum.value % 20 == 0", "value": -5}, "value": -3}}}
    },
    "layer": [
     {"mark": {"type": "line", "color": "#1414f0", "strokeWidth": 0.8},
      "encoding": {"detail": {"field": "c"}}},
     {"mark": {"type": "point", "shape": "square", "filled": true, "color": "#1414f0", "size": 16, "opacity": 1}}
   ]}
  ],
  "resolve": {"scale": {"y": "independent"}}
 }
]
}
